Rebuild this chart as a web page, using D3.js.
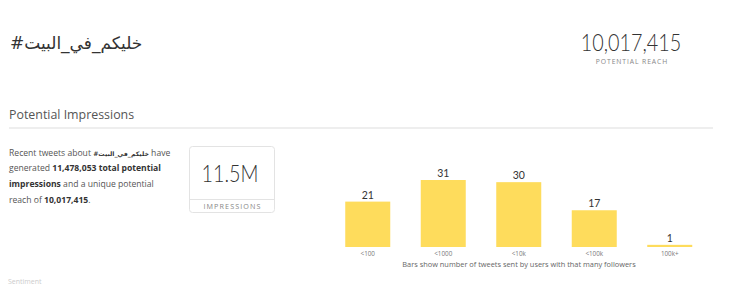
<!DOCTYPE html>
<html><head><meta charset="utf-8">
<script src="https://cdn.jsdelivr.net/npm/d3@7"></script>
<style>
html,body{margin:0;padding:0;background:#fff;}
svg{display:block;}
</style></head>
<body>
<svg id="c" width="740" height="285"></svg>
<script>
const categories = ["<100", "<1000", "<10k", "<100k", "100k+"];
const tweetCounts = [21, 31, 30, 17, 1];
const hashtag = "#خليكم_في_البيت";
const reach = "10,017,415";
const totalImpressions = "11,478,053";
const impressionsShort = "11.5M";

const svg = d3.select("#c");
const sans = "'Open Sans', 'DejaVu Sans', sans-serif";
const light = "Lato, 'Open Sans', sans-serif";

// Title
svg.append("text").attr("x", 10).attr("y", 49)
  .attr("font-family", "'DejaVu Sans', sans-serif").attr("font-size", 17)
  .attr("fill", "#333").attr("direction", "ltr")
  .text(hashtag);

// Reach
svg.append("text").attr("transform", "translate(631,51) scale(0.86,1)")
  .attr("text-anchor", "middle")
  .attr("font-family", light).attr("font-weight", 300).attr("font-size", 23)
  .attr("fill", "#333").text(reach);
svg.append("text").attr("x", 632).attr("y", 64).attr("text-anchor", "middle")
  .attr("font-family", sans).attr("font-size", 6.8).attr("letter-spacing", 0.9)
  .attr("fill", "#888").text("POTENTIAL REACH");

// Section heading
svg.append("text").attr("x", 9).attr("y", 119)
  .attr("font-family", sans).attr("font-size", 12.4).attr("fill", "#555")
  .text("Potential Impressions");
svg.append("line").attr("x1", 9).attr("x2", 713).attr("y1", 128).attr("y2", 128)
  .attr("stroke", "#ddd").attr("stroke-width", 1);

// Paragraph
const lines = [
  [["Recent tweets about ", 400], [hashtag, 700, 6.2], [" have", 400]],
  [["generated ", 400], [totalImpressions + " total potential", 700]],
  [["impressions", 700], [" and a unique potential", 400]],
  [["reach of ", 400], [reach, 700], [".", 400]]
];
lines.forEach((segs, i) => {
  const t = svg.append("text").attr("x", 9).attr("y", 155.5 + i * 15.8)
    .attr("font-family", sans).attr("font-size", 8.6).attr("fill", "#555");
  segs.forEach(s => {
    const ts = t.append("tspan").attr("font-weight", s[1])
      .attr("fill", s[1] > 400 ? "#333" : "#555").text(s[0]);
    if (s[2]) ts.attr("font-size", s[2]).attr("font-family", "'DejaVu Sans', sans-serif");
  });
});

// Impressions box
svg.append("rect").attr("x", 189.5).attr("y", 146.5).attr("width", 85).attr("height", 66)
  .attr("rx", 3).attr("fill", "#fff").attr("stroke", "#e3e3e3");
svg.append("line").attr("x1", 190).attr("x2", 274).attr("y1", 199.5).attr("y2", 199.5)
  .attr("stroke", "#e3e3e3");
svg.append("text").attr("transform", "translate(230,182) scale(0.86,1)")
  .attr("text-anchor", "middle")
  .attr("font-family", light).attr("font-weight", 300).attr("font-size", 23)
  .attr("fill", "#333").text(impressionsShort);
svg.append("text").attr("x", 232.5).attr("y", 208.5).attr("text-anchor", "middle")
  .attr("font-family", sans).attr("font-size", 7.2).attr("letter-spacing", 1.1)
  .attr("fill", "#888").text("IMPRESSIONS");

// Bar chart
const x = d3.scaleBand().domain(categories).range([330, 707.5])
  .paddingInner(0.404).paddingOuter(0.202);
const y = d3.scaleLinear().domain([0, 31]).range([247, 180]);

const g = svg.append("g");
g.selectAll("rect.bar").data(tweetCounts).join("rect").attr("class", "bar")
  .attr("x", (d, i) => x(categories[i])).attr("width", x.bandwidth())
  .attr("y", d => y(d)).attr("height", d => y(0) - y(d))
  .attr("fill", "#fedc5c");
g.selectAll("text.val").data(tweetCounts).join("text").attr("class", "val")
  .attr("x", (d, i) => x(categories[i]) + x.bandwidth() / 2)
  .attr("y", d => y(d) - 3).attr("text-anchor", "middle")
  .attr("font-family", light).attr("font-size", 10.5).attr("fill", "#333")
  .text(d => d);

const ax = svg.append("g").attr("transform", "translate(0,250)")
  .call(d3.axisBottom(x).tickSize(0).tickPadding(2));
ax.select(".domain").remove();
ax.selectAll("text").attr("font-family", sans).attr("font-size", 6.3).attr("fill", "#777");

svg.append("text").attr("x", 519).attr("y", 266.5).attr("text-anchor", "middle")
  .attr("font-family", sans).attr("font-size", 7.4).attr("fill", "#666")
  .text("Bars show number of tweets sent by users with that many followers");

// faint next-section label
svg.append("text").attr("x", 8).attr("y", 284)
  .attr("font-family", sans).attr("font-size", 7).attr("fill", "#ccc")
  .text("Sentiment");
</script>
</body></html>
